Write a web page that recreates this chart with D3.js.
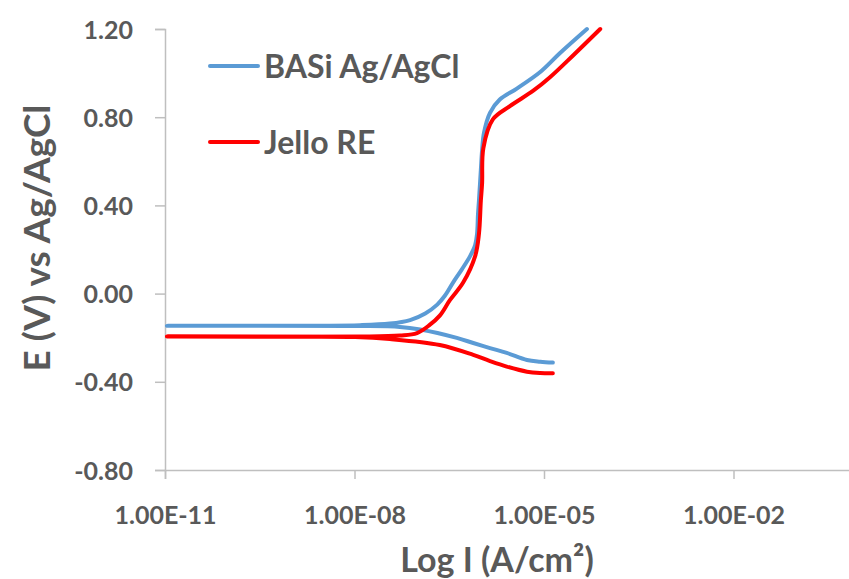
<!DOCTYPE html>
<html><head><meta charset="utf-8">
<script src="https://cdn.jsdelivr.net/npm/d3@7"></script>
<style>
html,body{margin:0;padding:0;background:#fff;}
svg text{font-family:Lato,"Open Sans",sans-serif;font-weight:bold;fill:#595959;}
</style></head>
<body><svg id="chart" width="849" height="579"></svg>
<script>
// log10 of current density (A/cm2) and potential (V vs Ag/AgCl)
const seriesNames = ["BASi Ag/AgCl", "Jello RE"];
const seriesColors = ["#5B9BD5", "#FF0000"];
const basiCathodicLogI = [-4.86,-5.06,-5.27,-5.59,-5.855,-6.12,-6.38,-6.96,-7.28,-7.99,-10.97];
const basiCathodicE    = [-0.313,-0.309,-0.301,-0.269,-0.247,-0.224,-0.201,-0.163,-0.151,-0.147,-0.146];
const basiAnodicLogI = [-7.91,-7.44,-7.12,-6.88,-6.69,-6.57,-6.44,-6.30,-6.17,-6.09,-6.06,-6.045,-6.03,-6.00,-5.98,-5.95,-5.855,-5.70,-5.43,-5.06,-4.75,-4.32];
const basiAnodicE    = [-0.143,-0.136,-0.12,-0.09,-0.05,-0.01,0.05,0.11,0.17,0.22,0.27,0.36,0.42,0.56,0.65,0.73,0.82,0.88,0.93,1.005,1.09,1.20];
const jelloCathodicLogI = [-4.86,-5.06,-5.27,-5.59,-5.855,-6.12,-6.65,-7.44,-7.99,-10.97];
const jelloCathodicE    = [-0.361,-0.36,-0.354,-0.331,-0.306,-0.278,-0.233,-0.206,-0.197,-0.195];
const jelloAnodicLogI = [-7.91,-7.28,-7.01,-6.81,-6.65,-6.49,-6.28,-6.09,-6.03,-6.00,-5.98,-5.96,-5.81,-5.54,-5.17,-4.91,-4.54,-4.11];
const jelloAnodicE    = [-0.195,-0.190,-0.179,-0.142,-0.10,-0.03,0.05,0.17,0.27,0.42,0.50,0.66,0.79,0.85,0.92,0.98,1.08,1.20];
const xTickValues = [-11,-8,-5,-2];
const xTickLabels = ["1.00E-11","1.00E-08","1.00E-05","1.00E-02"];
const yTickValues = [-0.8,-0.4,0,0.4,0.8,1.2];
const yTickLabels = ["-0.80","-0.40","0.00","0.40","0.80","1.20"];
const xTitle = "Log I (A/cm²)";
const yTitle = "E (V) vs Ag/AgCl";

const svg = d3.select("#chart");
const x = d3.scaleLinear().domain([-11, 1]).range([165, 923]);
const y = d3.scaleLinear().domain([-0.8, 1.2]).range([470, 29]);
const axisColor = "#BFBFBF";

// axes
const gx = svg.append("g").attr("transform", `translate(0,${y(-0.8)})`)
  .call(d3.axisBottom(x).tickValues(xTickValues).tickSize(9).tickPadding(27)
    .tickFormat((d,i)=>xTickLabels[i]));
const gy = svg.append("g").attr("transform", `translate(${x(-11)},0)`)
  .call(d3.axisLeft(y).tickValues(yTickValues).tickSize(10).tickPadding(22)
    .tickFormat((d,i)=>yTickLabels[i]));
[gx, gy].forEach(g => {
  g.select(".domain").attr("stroke", axisColor).attr("stroke-width", 1.5);
  g.selectAll(".tick line").attr("stroke", axisColor).attr("stroke-width", 1.5);
  g.selectAll(".tick text").attr("font-size", 25).style("font-family","Lato,sans-serif").style("font-weight","bold").attr("fill","#595959");
});
gy.selectAll(".tick text").attr("dy", "0.36em");

// titles
svg.append("text").attr("x", 497).attr("y", 572).attr("text-anchor", "middle")
  .attr("font-size", 34).text(xTitle);
svg.append("text").attr("transform", `translate(50,238) rotate(-90)`).attr("text-anchor", "middle")
  .attr("font-size", 37).text(yTitle);

// curves
function pts(li, e){ return li.map((v,i)=>[v, e[i]]); }
const seriesData = [
  pts(basiCathodicLogI, basiCathodicE).concat(pts(basiAnodicLogI, basiAnodicE)),
  pts(jelloCathodicLogI, jelloCathodicE).concat(pts(jelloAnodicLogI, jelloAnodicE))
];
const line = d3.line().x(d=>x(d[0])).y(d=>y(d[1])).curve(d3.curveCatmullRom.alpha(0.5));
seriesData.forEach((d,i)=>{
  svg.append("path").attr("d", line(d)).attr("fill","none")
    .attr("stroke", seriesColors[i]).attr("stroke-width", 4)
    .attr("stroke-linecap","round").attr("stroke-linejoin","round");
});

// legend
const legY = [66, 142];
seriesNames.forEach((n,i)=>{
  svg.append("line").attr("x1",210).attr("x2",258).attr("y1",legY[i]).attr("y2",legY[i])
    .attr("stroke", seriesColors[i]).attr("stroke-width",4).attr("stroke-linecap","round");
  svg.append("text").attr("x",264).attr("y",legY[i]).attr("dy","0.36em")
    .attr("font-size",32).text(n);
});
</script></body></html>
